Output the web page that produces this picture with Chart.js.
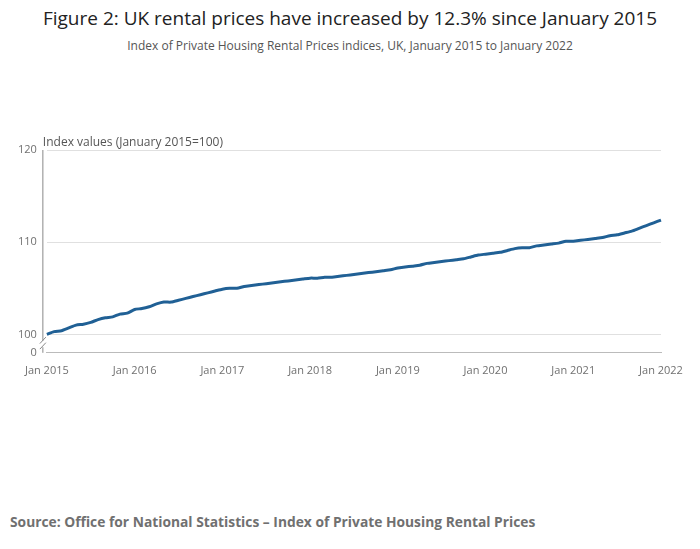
<!DOCTYPE html>
<html><head><meta charset="utf-8">
<script src="https://cdn.jsdelivr.net/npm/chart.js@4"></script>
<style>
body{margin:0;background:#fff;font-family:"Open Sans",sans-serif;}
#wrap{position:relative;width:700px;height:549px;}
h1{position:absolute;top:5px;left:0;width:700px;text-align:center;margin:0;font-weight:normal;font-size:19px;color:#222;}
h2{position:absolute;top:37px;left:0;width:700px;text-align:center;margin:0;font-weight:normal;font-size:12px;color:#555;}
#src{position:absolute;top:512px;left:10px;font-size:13.8px;font-weight:bold;color:#707070;}
#box{position:absolute;left:0;top:130px;width:700px;height:250px;}
</style></head><body>
<div id="wrap">
<h1>Figure 2: UK rental prices have increased by 12.3% since January 2015</h1>
<h2>Index of Private Housing Rental Prices indices, UK, January 2015 to January 2022</h2>
<div id="box"><canvas id="chart"></canvas></div>
<div id="src">Source: Office for National Statistics – Index of Private Housing Rental Prices</div>
</div>
<script>
Chart.defaults.font.family = '"Open Sans", sans-serif';
const years = [2015,2016,2017,2018,2019,2020,2021,2022];
const months = ['Jan','Feb','Mar','Apr','May','Jun','Jul','Aug','Sep','Oct','Nov','Dec'];
const labels = [];
years.forEach(y => months.forEach((m, i) => { if (y < 2022 || i === 0) labels.push(m + ' ' + y); }));
const index = [
  100.0,100.3,100.4,100.7,101.0,101.1,101.3,101.6,101.8,101.9,102.2,102.3,
  102.7,102.8,103.0,103.3,103.5,103.5,103.7,103.9,104.1,104.3,104.5,104.7,
  104.9,105.0,105.0,105.2,105.3,105.4,105.5,105.6,105.7,105.8,105.9,106.0,
  106.1,106.1,106.2,106.2,106.3,106.4,106.5,106.6,106.7,106.8,106.9,107.0,
  107.2,107.3,107.4,107.5,107.7,107.8,107.9,108.0,108.1,108.2,108.4,108.6,
  108.7,108.8,108.9,109.1,109.3,109.4,109.4,109.6,109.7,109.8,109.9,110.1,
  110.1,110.2,110.3,110.4,110.5,110.7,110.8,111.0,111.2,111.5,111.8,112.1,
  112.4
];
const yTicks = [98,100,110,120];

// axis line with break mark
const breakPlugin = {
  id: 'axisBreak',
  afterDraw(chart) {
    const c = chart.ctx, x = chart.scales.x.left - 4, y = chart.scales.y;
    c.save();
    c.strokeStyle = '#888'; c.lineWidth = 1;
    c.beginPath(); c.moveTo(x, y.top); c.lineTo(x, y.getPixelForValue(99.3)); c.stroke();
    c.beginPath(); c.moveTo(x, y.getPixelForValue(98.6)); c.lineTo(x, y.bottom); c.stroke();
    c.beginPath();
    c.moveTo(x - 3, y.getPixelForValue(99.0)); c.lineTo(x + 3, y.getPixelForValue(99.7));
    c.moveTo(x - 3, y.getPixelForValue(98.4)); c.lineTo(x + 3, y.getPixelForValue(99.1));
    c.stroke();
    c.fillStyle = '#555'; c.font = '12px "Open Sans"';
    c.fillText('Index values (January 2015=100)', x, y.top - 4);
    c.restore();
  }
};

new Chart(document.getElementById('chart'), {
  type: 'line',
  data: { labels: labels, datasets: [{ data: index, borderColor: '#206095', borderWidth: 3, pointRadius: 0, tension: 0.2 }] },
  options: {
    responsive: true, maintainAspectRatio: false, animation: false,
    layout: { padding: { left: 8, right: 39, top: 20 } },
    plugins: { legend: { display: false }, tooltip: { enabled: false } },
    scales: {
      x: {
        offset: false,
        grid: { display: false, drawTicks: true },
        border: { color: '#bbb' },
        ticks: { autoSkip: false, maxRotation: 0, color: '#707070', font: { size: 11 },
          callback: (v, i) => i % 12 === 0 ? labels[i] : '' }
      },
      y: {
        min: 98, max: 120,
        afterBuildTicks: s => { s.ticks = yTicks.map(v => ({ value: v })); },
        border: { display: false },
        grid: { color: ctx => ctx.tick && ctx.tick.value === 98 ? 'rgba(0,0,0,0)' : '#e0e0e0', drawTicks: false },
        ticks: { color: '#707070', font: { size: 11 }, padding: 10,
          callback: v => v === 98 ? '0' : v }
      }
    }
  },
  plugins: [breakPlugin]
});
</script>
</body></html>
